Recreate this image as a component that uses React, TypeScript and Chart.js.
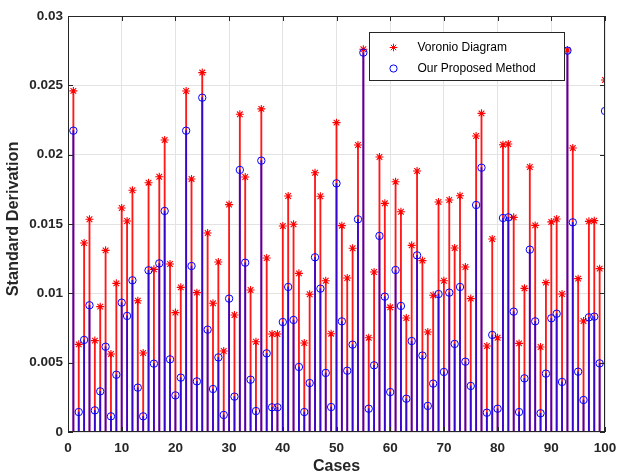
import React, { useEffect, useRef } from 'react';
import { Chart, registerables } from 'chart.js';

Chart.register(...registerables);

const cases = [
  1, 2, 3, 4, 5, 6, 7, 8, 9, 10, 11, 12, 13, 14, 15, 16, 17, 18, 19, 20,
  21, 22, 23, 24, 25, 26, 27, 28, 29, 30, 31, 32, 33, 34, 35, 36, 37, 38, 39, 40,
  41, 42, 43, 44, 45, 46, 47, 48, 49, 50, 51, 52, 53, 54, 55, 56, 57, 58, 59, 60,
  61, 62, 63, 64, 65, 66, 67, 68, 69, 70, 71, 72, 73, 74, 75, 76, 77, 78, 79, 80,
  81, 82, 83, 84, 85, 86, 87, 88, 89, 90, 91, 92, 93, 94, 95, 96, 97, 98, 99, 100,
];

const voronoi = [
  0.0246, 0.00632, 0.01363, 0.01534, 0.00659, 0.00904, 0.0131, 0.00563, 0.01072, 0.01615,
  0.01522, 0.01743, 0.00947, 0.0057, 0.01798, 0.01173, 0.01841, 0.02106, 0.01212, 0.00861,
  0.01043, 0.02459, 0.01825, 0.01005, 0.02592, 0.01435, 0.00928, 0.01226, 0.00584, 0.0164,
  0.00844, 0.02291, 0.01839, 0.01024, 0.00651, 0.0233, 0.01255, 0.00707, 0.00707, 0.01486,
  0.01702, 0.01498, 0.01144, 0.00642, 0.00993, 0.0187, 0.017, 0.01091, 0.00709, 0.02231,
  0.01488, 0.01111, 0.01325, 0.0207, 0.0276, 0.0068, 0.01154, 0.01983, 0.01649, 0.00899,
  0.01805, 0.01588, 0.00822, 0.01346, 0.01882, 0.01236, 0.00721, 0.00986, 0.01659, 0.01091,
  0.01673, 0.01327, 0.01704, 0.0119, 0.00962, 0.02135, 0.02298, 0.0062, 0.01392, 0.0068,
  0.02072, 0.02077, 0.01548, 0.00639, 0.01036, 0.01911, 0.0149, 0.00613, 0.01077, 0.01515,
  0.01536, 0.00995, 0.02755, 0.02048, 0.01106, 0.008, 0.01519, 0.01524, 0.01178, 0.02539,
];

const proposed = [
  0.02173, 0.00144, 0.00664, 0.00914, 0.00156, 0.00293, 0.00615, 0.00113, 0.00413, 0.00933,
  0.00837, 0.01094, 0.0032, 0.00113, 0.01166, 0.00493, 0.01216, 0.01594, 0.00524, 0.00264,
  0.00392, 0.02173, 0.01197, 0.00365, 0.02411, 0.00738, 0.0031, 0.00538, 0.00123, 0.00962,
  0.00255, 0.0189, 0.01221, 0.00377, 0.00151, 0.01957, 0.00567, 0.00178, 0.00178, 0.00793,
  0.01046, 0.00808, 0.00469, 0.00144, 0.00353, 0.0126, 0.01034, 0.00426, 0.0018, 0.01793,
  0.00798, 0.00442, 0.0063, 0.01534, 0.02736, 0.00168, 0.00481, 0.01414, 0.00976, 0.00288,
  0.01168, 0.00909, 0.0024, 0.00656, 0.01274, 0.00551, 0.00188, 0.00349, 0.00995, 0.00433,
  0.01005, 0.00635, 0.01046, 0.00507, 0.00332, 0.01637, 0.01906, 0.00139, 0.007, 0.00168,
  0.01543, 0.01548, 0.00868, 0.00144, 0.00387, 0.01315, 0.00798, 0.00135, 0.00421, 0.0082,
  0.00853, 0.00361, 0.0275, 0.01512, 0.00435, 0.00231, 0.00827, 0.00832, 0.00495, 0.02315,
];

const xTickLabels = ['0', '10', '20', '30', '40', '50', '60', '70', '80', '90', '100'];
const yTickLabels = ['0', '0.005', '0.01', '0.015', '0.02', '0.025', '0.03'];
const seriesNames = ['Voronio Diagram', 'Our Proposed Method'];
const xTitle = 'Cases';
const yTitle = 'Standard Derivation';

const FONT = '"Liberation Sans", Arial, Helvetica, sans-serif';
const RED = '#ff0000';
const BLUE = '#0000ff';
const AXIS = '#262626';

function drawStar(ctx: CanvasRenderingContext2D, x: number, y: number, r: number) {
  ctx.beginPath();
  ctx.moveTo(x - r, y);
  ctx.lineTo(x + r, y);
  ctx.moveTo(x, y - r);
  ctx.lineTo(x, y + r);
  const d = r * Math.SQRT1_2;
  ctx.moveTo(x - d, y - d);
  ctx.lineTo(x + d, y + d);
  ctx.moveTo(x - d, y + d);
  ctx.lineTo(x + d, y - d);
  ctx.stroke();
}

export default function App() {
  const ref = useRef<HTMLCanvasElement>(null);

  useEffect(() => {
    document.body.style.margin = '0';
    if (!ref.current) return;

    const framePlugin = {
      id: 'frame',
      afterDatasetsDraw(chart: any) {
        const { ctx, chartArea: a, scales } = chart;
        ctx.save();
        ctx.strokeStyle = AXIS;
        ctx.lineWidth = 1;
        const L = 5;
        ctx.beginPath();
        scales.x.ticks.forEach((t: any) => {
          const px = Math.round(scales.x.getPixelForValue(t.value)) + 0.5;
          ctx.moveTo(px, a.bottom);
          ctx.lineTo(px, a.bottom - L);
          ctx.moveTo(px, a.top);
          ctx.lineTo(px, a.top + L);
        });
        scales.y.ticks.forEach((t: any) => {
          const py = Math.round(scales.y.getPixelForValue(t.value)) + 0.5;
          ctx.moveTo(a.left, py);
          ctx.lineTo(a.left + L, py);
          ctx.moveTo(a.right, py);
          ctx.lineTo(a.right - L, py);
        });
        ctx.stroke();
        ctx.strokeRect(
          Math.round(a.left) + 0.5,
          Math.round(a.top) + 0.5,
          Math.round(a.right) - Math.round(a.left) - 1,
          Math.round(a.bottom) - Math.round(a.top) - 1
        );
        ctx.restore();
      },
      afterDraw(chart: any) {
        const { ctx, chartArea: a } = chart;
        // y-axis title
        ctx.save();
        ctx.translate(14, (a.top + a.bottom) / 2 - 5);
        ctx.rotate(-Math.PI / 2);
        ctx.fillStyle = AXIS;
        ctx.font = `bold 16.3px ${FONT}`;
        ctx.textAlign = 'center';
        ctx.textBaseline = 'middle';
        ctx.fillText(yTitle, 0, 0);
        ctx.restore();

        // legend
        const bx = Math.round(a.right) - 236 + 0.5;
        const by = Math.round(a.top) + 16 + 0.5;
        const bw = 195;
        const bh = 48;
        ctx.save();
        ctx.fillStyle = '#ffffff';
        ctx.fillRect(bx, by, bw, bh);
        ctx.strokeStyle = AXIS;
        ctx.lineWidth = 1;
        ctx.strokeRect(bx, by, bw, bh);
        const mx = bx + 24;
        const y1 = by + 15;
        const y2 = by + 36;
        ctx.lineWidth = 1;
        ctx.strokeStyle = RED;
        drawStar(ctx, mx, y1, 3.8);
        ctx.strokeStyle = BLUE;
        ctx.beginPath();
        ctx.arc(mx, y2, 3.6, 0, Math.PI * 2);
        ctx.stroke();
        ctx.fillStyle = '#000000';
        ctx.font = `12px ${FONT}`;
        ctx.textBaseline = 'middle';
        ctx.textAlign = 'left';
        ctx.fillText(seriesNames[0], bx + 48, y1);
        ctx.fillText(seriesNames[1], bx + 48, y2);
        ctx.restore();
      },
    };

    const redPts = cases.map((c, i) => ({ x: c, y: voronoi[i] }));
    const bluePts = cases.map((c, i) => ({ x: c, y: proposed[i] }));

    const chart = new Chart(ref.current, {
      type: 'bar',
      data: {
        datasets: [
          {
            type: 'line',
            label: seriesNames[1] + ' markers',
            data: bluePts,
            showLine: false,
            pointStyle: 'circle',
            pointRadius: 3.7,
            pointBorderWidth: 1,
            pointBorderColor: BLUE,
            pointBackgroundColor: 'rgba(0,0,0,0)',
            order: 1,
          } as any,
          {
            type: 'line',
            label: seriesNames[0] + ' markers',
            data: redPts,
            showLine: false,
            pointStyle: 'star',
            pointRadius: 4,
            pointBorderWidth: 1.1,
            pointBorderColor: RED,
            pointBackgroundColor: RED,
            order: 2,
          } as any,
          {
            type: 'bar',
            label: seriesNames[1],
            data: bluePts,
            backgroundColor: 'rgba(0,0,255,0.78)',
            barThickness: 1.2,
            grouped: false,
            borderWidth: 0,
            order: 3,
          } as any,
          {
            type: 'bar',
            label: seriesNames[0],
            data: redPts,
            backgroundColor: 'rgba(255,0,0,0.9)',
            barThickness: 1.2,
            grouped: false,
            borderWidth: 0,
            order: 4,
          } as any,
        ],
      },
      options: {
        animation: false,
        responsive: false,
        maintainAspectRatio: false,
        events: [],
        layout: { padding: { top: 16, right: 12, left: 0, bottom: 0 } },
        plugins: {
          legend: { display: false },
          tooltip: { enabled: false },
        },
        scales: {
          x: {
            type: 'linear',
            min: 0,
            max: 100,
            offset: false,
            grid: { color: '#e3e3e3', lineWidth: 1, drawTicks: false, offset: false },
            border: { display: false },
            ticks: {
              stepSize: 10,
              padding: 8,
              maxRotation: 0,
              color: AXIS,
              font: { family: FONT, size: 13.5, weight: 'bold' },
              callback: (_v: any, i: number) => xTickLabels[i],
            },
            title: {
              display: true,
              text: xTitle,
              color: AXIS,
              font: { family: FONT, size: 16, weight: 'bold', lineHeight: 1 },
              padding: { top: 0, bottom: 1 },
            },
            afterFit: (s: any) => {
              s.height = 44;
              s.paddingLeft = 0;
              s.paddingRight = 0;
            },
          },
          y: {
            type: 'linear',
            min: 0,
            max: 0.03,
            grid: { color: '#e3e3e3', lineWidth: 1, drawTicks: false },
            border: { display: false },
            ticks: {
              stepSize: 0.005,
              padding: 5,
              color: AXIS,
              font: { family: FONT, size: 13.5, weight: 'bold' },
              callback: (_v: any, i: number) => yTickLabels[i],
            },
            title: { display: false },
            afterFit: (s: any) => {
              s.width = 68;
              s.paddingTop = 0;
              s.paddingBottom = 0;
            },
          },
        },
      },
      plugins: [framePlugin],
    } as any);

    return () => chart.destroy();
  }, []);

  return (
    <div style={{ width: 617, height: 476 }}>
      <canvas ref={ref} width={617} height={476} style={{ display: 'block' }} />
    </div>
  );
}
